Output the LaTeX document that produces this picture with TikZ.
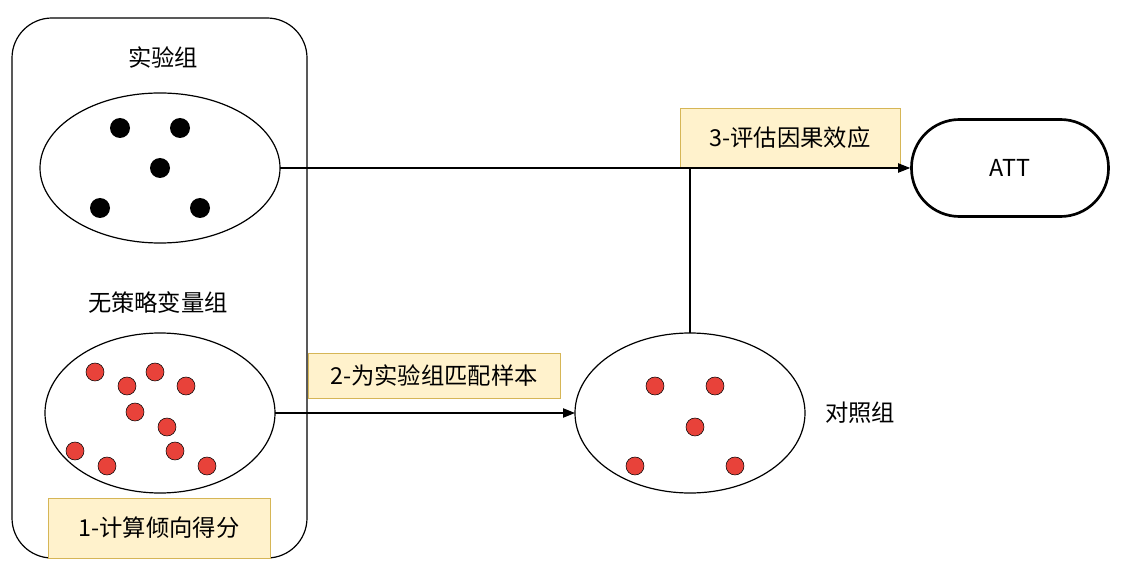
\documentclass[tikz,border=0pt]{standalone}
\usepackage{fontspec}
\setmainfont{Noto Sans CJK SC}
\usetikzlibrary{arrows.meta}
\begin{document}
\begin{tikzpicture}[x=0.75pt,y=-0.75pt,
  txt/.style={font=\fontsize{17.5}{20}\selectfont},
  lbl/.style={draw={rgb,255:red,214;green,182;blue,86},fill={rgb,255:red,255;green,242;blue,204},txt},
  rdot/.style={fill={rgb,255:red,232;green,66;blue,58},draw=black},
  arr/.style={-{Triangle[length=9pt,width=7pt]},line width=0.9pt}]
\useasboundingbox (0,0) rectangle (1122,574);
\draw[line width=0.9pt,rounded corners=30] (12,18) rectangle (307,558);
\node[txt] (t1) at (163,58) {实验组};
\draw[line width=0.9pt] (160,168) ellipse [x radius=120, y radius=75];
\coordinate (e1r) at (280,168);
\foreach \x/\y in {120/128,180/128,160/168,100/208,200/208} \fill (\x,\y) circle [radius=10];
\node[txt] (t2) at (158,303) {无策略变量组};
\draw[line width=0.9pt] (160,413) ellipse [x radius=115, y radius=80];
\coordinate (e2r) at (275,413);
\foreach \x/\y in {95/372,127/386,155/372,186/386,135/412,167/427,75/451,107/466,175/451,207/466} \filldraw[rdot] (\x,\y) circle [radius=9];
\node[lbl,minimum width=222*0.75pt,minimum height=60*0.75pt] (l1) at (159,528) {1-计算倾向得分};
\draw[line width=0.9pt] (690,413) ellipse [x radius=115, y radius=80];
\coordinate (e3l) at (575,413);
\coordinate (e3t) at (690,333);
\coordinate (j) at (690,168);
\foreach \x/\y in {655/386,715/386,695/427,635/466,735/466} \filldraw[rdot] (\x,\y) circle [radius=9];
\node[txt] (t3) at (860,413) {对照组};
\node[lbl,minimum width=252*0.75pt,minimum height=45*0.75pt] (l2) at (434,375.5) {2-为实验组匹配样本};
\node[lbl,minimum width=220*0.75pt,minimum height=60*0.75pt] (l3) at (790,138) {3-评估因果效应};
\node[draw,line width=2pt,rounded corners=36pt,minimum width=197*0.75pt,minimum height=97*0.75pt,txt] (att) at (1010,168) {ATT};
\draw[arr] (e1r) -- (att.west);
\draw[arr] (e2r) -- (e3l);
\draw[line width=0.9pt] (e3t) -- (j);
\end{tikzpicture}
\end{document}
